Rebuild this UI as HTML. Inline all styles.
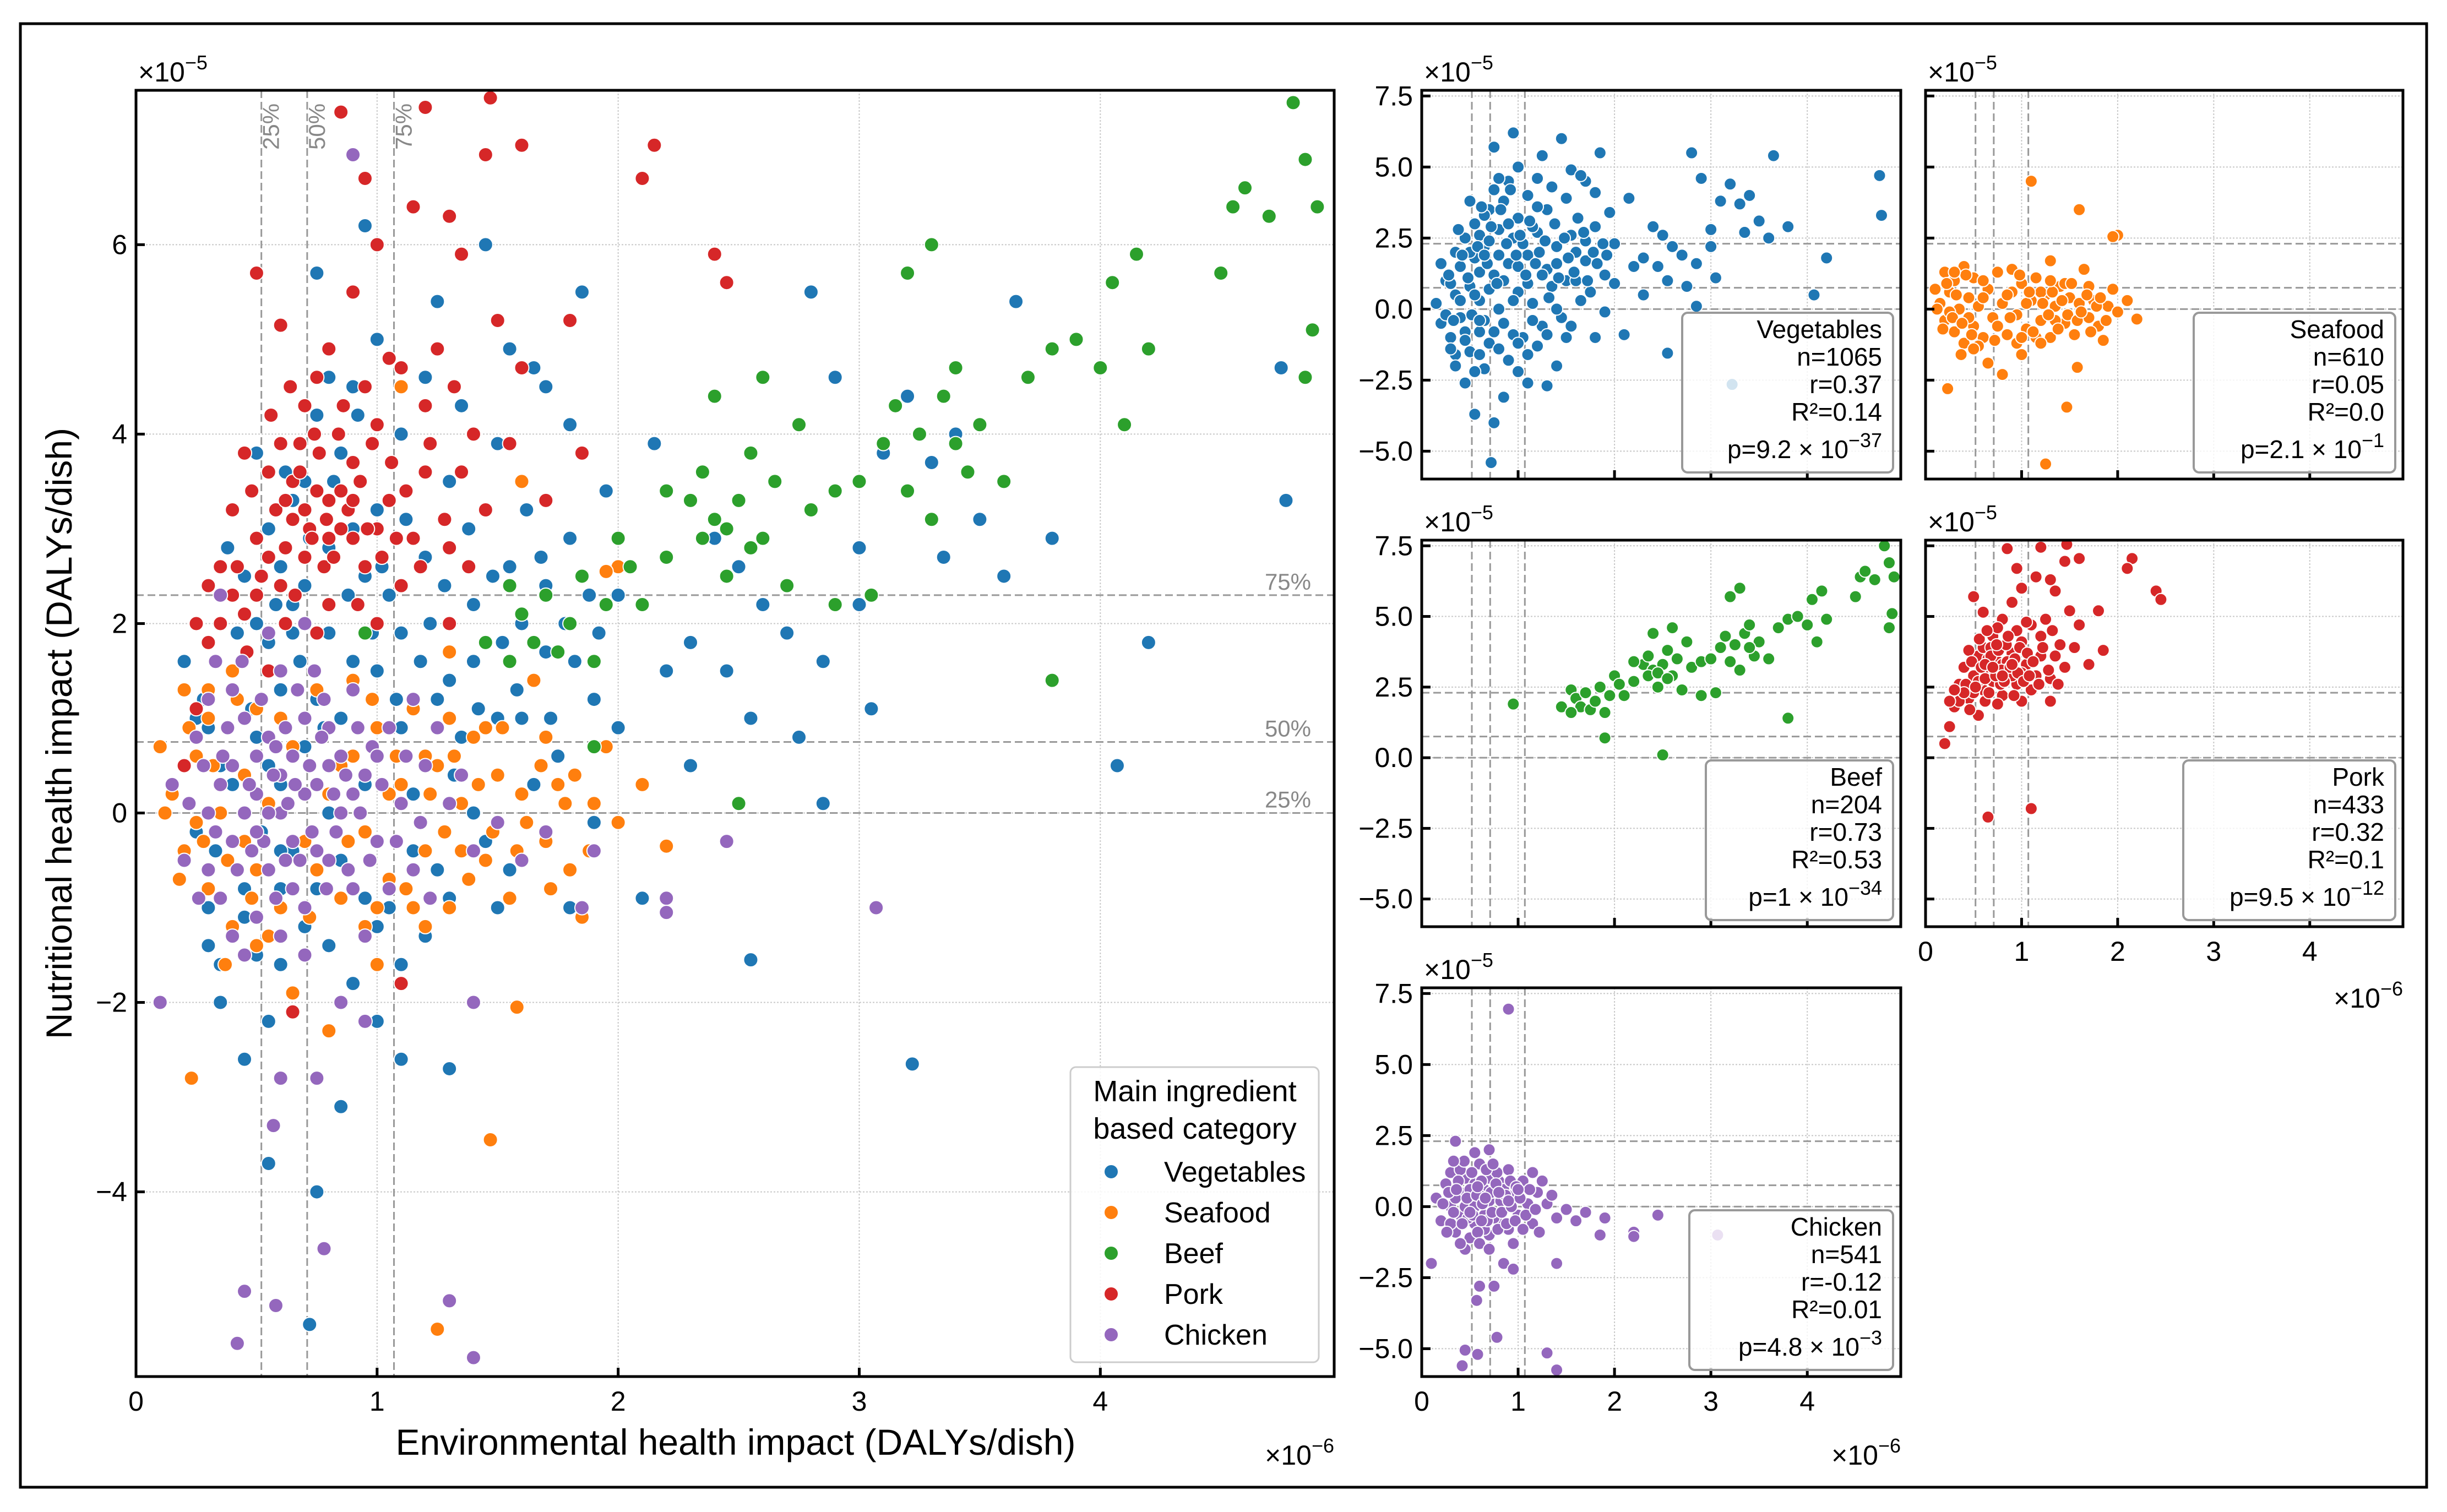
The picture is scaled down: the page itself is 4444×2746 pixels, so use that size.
<!DOCTYPE html>
<html><head><meta charset="utf-8"><style>
html,body{margin:0;padding:0;background:#fff}
svg{display:block;font-family:"Liberation Sans",sans-serif}
</style></head><body>
<svg id="fig" width="4444" height="2746" viewBox="0 0 4444 2746" xmlns="http://www.w3.org/2000/svg">
<rect x="0" y="0" width="4444" height="2746" fill="#fff"/>
<rect x="37" y="43" width="4370" height="2658" fill="none" stroke="#000" stroke-width="5"/>
<g id="layer"></g>
</svg>
<script>
const categories = ["Vegetables","Seafood","Beef","Pork","Chicken"];
const colors = ["#1f77b4","#ff7f0e","#2ca02c","#d62728","#9467bd"];
const xTicksMain = [0,1,2,3,4];
const yTicksMain = [-4,-2,0,2,4,6];
const yTicksSub = [-5,-2.5,0,2.5,5,7.5];
const xRefLines = [0.52,0.71,1.07];
const yRefLines = [0,0.75,2.3];
const refLabels = ["25%","50%","75%"];
const vegPts = [[0.15,0.2],[0.2,-0.5],[0.25,1.0],[0.3,-1.0],[0.35,0.5],[0.4,1.5],[0.4,-0.3],[0.45,2.5],[0.5,0.8],[0.5,-1.5],[0.55,3.0],[0.55,1.8],[0.6,-0.8],[0.6,0.3],[0.65,2.2],[0.7,3.5],[0.7,-1.2],[0.75,1.2],[0.75,4.2],[0.8,2.8],[0.8,0.0],[0.85,-0.5],[0.85,3.8],[0.9,1.6],[0.9,-1.8],[0.95,2.5],[1.0,0.6],[1.0,3.2],[1.05,-1.0],[1.1,1.9],[1.1,4.0],[1.15,0.2],[1.2,2.7],[1.25,-0.6],[1.3,1.4],[1.3,3.5],[1.35,0.8],[1.4,2.2],[1.45,-0.3],[1.5,1.0],[1.5,3.9],[1.55,4.9],[1.6,2.0],[1.65,0.3],[1.7,1.7],[1.8,2.9],[1.85,5.5],[1.9,1.2],[2.0,2.3],[0.75,5.7],[0.95,6.2],[1.25,5.4],[1.45,6.0],[1.5,-1.0],[2.1,-0.9],[2.2,1.5],[2.3,1.8],[2.4,2.9],[2.5,2.6],[2.55,1.0],[2.6,2.2],[2.7,1.9],[2.75,0.8],[2.8,5.5],[2.85,0.1],[2.9,4.6],[3.0,2.2],[3.05,1.1],[3.1,3.8],[3.2,4.4],[3.3,3.7],[3.4,4.0],[3.5,3.1],[3.6,2.5],[3.65,5.4],[3.8,2.9],[4.07,0.5],[4.2,1.8],[4.75,4.7],[4.77,3.3],[3.22,-2.65],[2.55,-1.55],[0.55,-3.7],[0.45,-2.6],[0.85,-3.1],[0.65,-2.1],[1.4,-2.0],[1.3,-2.7],[0.35,-1.6],[1.9,-0.1],[2.3,0.5],[1.95,3.4],[1.7,4.5],[0.6,2.6],[0.9,4.5],[1.0,-2.2],[0.75,-4.0],[0.72,-5.4],[1.1,-2.6],[0.3,0.9],[0.5,2.0],[0.65,3.3],[0.8,1.9],[0.95,-0.9],[1.2,-1.3],[1.05,2.3],[0.4,0.3],[0.6,1.3],[0.7,0.7],[1.35,4.3],[1.6,1.0],[1.75,0.6],[1.8,-1.0],[2.0,0.9],[0.25,-0.2],[0.45,-0.8],[0.55,0.5],[0.65,-0.4],[0.85,1.0],[1.0,1.5],[1.15,2.9],[1.25,1.2],[0.35,2.0],[0.7,2.4],[0.9,3.0],[1.2,3.6],[1.4,1.6],[1.55,2.6],[1.7,2.4],[0.2,1.6],[0.3,-1.4],[0.6,-1.6],[1.0,-1.2],[1.3,-0.9],[1.1,0.9],[0.8,-1.4],[0.5,3.8],[1.65,4.7],[1.8,4.1],[2.15,3.9],[2.45,1.5],[2.85,1.6],[3.0,2.8],[3.35,2.7],[0.28,1.2],[0.33,-0.4],[0.38,2.8],[0.42,1.9],[0.48,1.1],[0.52,-0.2],[0.58,2.2],[0.62,3.6],[0.68,1.6],[0.72,2.9],[0.78,0.9],[0.82,3.5],[0.88,2.3],[0.92,4.2],[0.98,1.9],[1.02,2.6],[1.08,1.2],[1.12,3.1],[1.18,1.6],[1.22,2.0],[1.28,2.4],[1.32,0.4],[1.38,3.0],[1.42,1.1],[1.48,2.5],[1.52,1.8],[1.58,1.3],[1.62,3.2],[1.68,2.7],[1.72,1.0],[1.78,2.0],[1.82,1.6],[1.88,2.3],[1.92,1.9],[0.45,-1.1],[0.6,-0.4],[0.75,-0.8],[0.95,0.3],[1.15,-0.4],[1.4,0.0],[0.55,-2.2],[0.35,-2.0],[1.2,4.6],[0.8,4.6],[1.0,5.0],[0.65,1.9],[1.1,-1.6],[1.55,-0.6]];
const seaPts = [[0.1,0.7],[0.15,0.2],[0.2,1.3],[0.2,-0.4],[0.25,0.6],[0.3,-0.8],[0.3,1.0],[0.35,0.0],[0.4,-1.2],[0.45,0.4],[0.5,-0.6],[0.5,1.1],[0.55,0.1],[0.6,-1.0],[0.65,0.7],[0.7,-0.3],[0.75,1.3],[0.8,0.2],[0.85,-0.9],[0.9,0.6],[0.95,-0.2],[1.0,0.9],[1.05,-0.7],[1.1,0.3],[1.15,1.1],[1.2,-0.4],[1.25,0.5],[1.3,-1.0],[1.35,0.1],[1.4,0.8],[1.45,-0.5],[1.5,0.4],[1.55,-0.9],[1.6,0.2],[1.7,-0.3],[1.75,0.3],[1.8,-0.6],[1.9,0.1],[1.95,0.7],[2.2,-0.35],[1.1,4.5],[1.6,3.5],[0.37,-1.6],[0.23,-2.8],[1.25,-5.45],[1.47,-3.45],[1.58,-2.05],[0.8,-2.3],[0.65,-1.9],[1.0,-1.6],[2.0,2.6],[1.95,2.55],[1.65,1.4],[1.3,1.7],[0.9,1.4],[0.4,1.5],[0.25,-0.1],[0.45,-0.3],[0.6,0.4],[0.75,-0.6],[0.85,0.5],[1.05,0.2],[1.2,0.6],[1.35,-0.4],[1.45,0.9],[0.55,-1.3],[0.95,-1.2],[1.15,-1.0],[1.7,0.8],[1.85,-1.1],[0.12,0.0],[0.18,-0.7],[0.22,0.9],[0.28,-0.3],[0.32,0.5],[0.38,-0.5],[0.42,1.2],[0.48,-0.9],[0.6,1.0],[0.72,-1.1],[0.88,-0.3],[0.98,1.2],[1.08,0.6],[1.12,-0.8],[1.22,0.2],[1.28,-0.2],[1.32,0.6],[1.38,-0.7],[1.42,0.3],[1.48,-0.2],[1.52,0.9],[1.58,-0.4],[1.62,-0.1],[1.68,0.5],[1.72,-0.8],[1.78,0.1],[1.82,0.4],[1.88,-0.4],[2.0,-0.1],[2.1,0.3],[1.3,1.0],[1.0,-1.0],[1.2,-1.2],[0.5,-1.4],[0.3,1.3]];
const beefPts = [[0.95,1.9],[1.45,1.8],[1.55,2.4],[1.6,2.1],[1.65,1.8],[1.7,2.3],[1.75,1.7],[1.8,2.0],[1.85,2.5],[1.9,1.6],[1.95,2.2],[2.0,2.9],[2.05,2.6],[2.1,2.2],[2.2,2.7],[2.3,3.3],[2.35,3.6],[2.4,3.1],[2.45,2.5],[2.5,3.3],[2.55,3.8],[2.6,2.9],[2.65,3.5],[2.7,2.4],[2.8,3.2],[2.9,3.4],[3.0,3.5],[3.1,3.9],[3.15,4.3],[3.2,5.7],[3.25,4.0],[3.3,3.1],[3.35,4.4],[3.4,4.7],[3.45,3.6],[3.5,4.1],[3.6,3.5],[3.7,4.6],[3.8,4.9],[3.9,5.0],[4.0,4.7],[4.05,5.6],[4.1,4.1],[4.15,5.9],[4.2,4.9],[4.5,5.7],[4.55,6.4],[4.6,6.6],[4.7,6.3],[4.8,7.5],[4.85,6.9],[4.9,6.4],[4.85,4.6],[4.88,5.1],[3.3,6.0],[2.4,4.4],[2.6,4.6],[1.9,0.7],[2.5,0.1],[3.8,1.4],[2.9,2.2],[3.05,2.3],[2.75,4.1],[2.2,3.4],[1.55,1.6],[2.35,2.9],[2.45,3.0],[2.55,2.8],[3.2,3.4],[3.4,3.9]];
const porkPts = [[0.3,1.8],[0.35,2.6],[0.4,3.2],[0.45,2.1],[0.5,2.9],[0.55,3.6],[0.6,2.4],[0.6,3.9],[0.65,3.1],[0.7,2.7],[0.7,4.3],[0.75,3.4],[0.8,2.2],[0.8,4.9],[0.85,3.0],[0.9,3.7],[0.9,5.5],[0.95,2.6],[1.0,4.1],[1.0,6.0],[1.05,3.3],[1.1,2.4],[1.1,4.7],[1.15,6.4],[1.2,3.6],[1.25,4.9],[1.3,2.8],[1.35,5.9],[1.4,4.0],[1.45,3.2],[1.5,5.2],[1.55,3.9],[1.6,4.7],[1.7,3.3],[1.8,5.2],[1.85,3.8],[2.15,7.05],[2.1,6.7],[2.4,5.9],[2.45,5.6],[1.47,7.55],[1.6,7.05],[1.2,7.45],[0.85,7.4],[0.95,6.7],[1.3,6.3],[0.5,5.7],[0.6,5.15],[0.65,-2.1],[1.1,-1.8],[0.25,1.1],[0.2,0.5],[0.55,1.5],[0.75,1.9],[1.0,2.0],[1.3,2.0],[0.45,3.8],[0.8,3.3],[0.95,4.5],[1.2,4.3],[1.45,6.95],[0.55,2.7],[0.65,3.5],[0.72,3.0],[0.78,2.6],[0.85,3.4],[0.9,2.9],[1.0,3.0],[0.68,3.9],[0.35,2.0],[0.5,2.3],[0.62,2.0],[0.92,2.2],[1.15,2.9],[1.35,3.6],[0.75,4.6],[1.05,4.8],[0.42,2.6],[0.48,3.4],[0.52,2.5],[0.58,3.2],[0.62,2.8],[0.66,2.3],[0.68,3.6],[0.73,2.9],[0.76,3.8],[0.79,3.1],[0.82,2.7],[0.84,4.0],[0.88,3.2],[0.93,3.5],[0.96,3.0],[0.98,3.9],[1.02,2.7],[1.06,3.7],[1.08,2.9],[1.12,3.4],[1.18,2.6],[1.22,3.9],[1.28,3.1],[1.32,4.5],[1.38,2.6],[0.56,4.2],[0.64,4.5],[0.74,4.0],[0.86,4.3],[0.62,3.3],[0.7,3.2],[0.8,2.9],[0.9,3.3],[0.4,2.3],[0.46,1.7],[0.3,2.4],[0.25,2.0]];
const chickPts = [[0.15,0.3],[0.2,-0.5],[0.25,0.8],[0.3,0.0],[0.3,1.2],[0.35,-0.9],[0.4,0.5],[0.4,-0.3],[0.45,1.0],[0.5,-1.1],[0.5,0.2],[0.55,0.8],[0.55,-0.6],[0.6,1.5],[0.6,0.0],[0.65,-0.3],[0.65,0.6],[0.7,1.0],[0.7,-1.0],[0.75,0.3],[0.8,-0.5],[0.8,0.9],[0.85,0.0],[0.9,1.3],[0.9,-0.8],[0.95,0.4],[1.0,-0.3],[1.05,0.9],[1.1,0.1],[1.15,-0.6],[1.2,0.5],[1.3,0.1],[1.4,-0.4],[1.5,-0.1],[1.6,-0.5],[1.7,-0.2],[1.85,-1.0],[1.9,-0.4],[2.2,-0.9],[2.2,-1.05],[2.45,-0.3],[3.07,-1.0],[0.9,6.95],[0.45,-5.05],[0.42,-5.6],[0.58,-5.2],[0.57,-3.3],[0.6,-2.8],[0.75,-2.8],[0.78,-4.6],[1.3,-5.15],[1.4,-5.75],[0.1,-2.0],[0.45,-1.5],[0.85,-2.0],[0.95,-2.2],[1.4,-2.0],[0.35,2.3],[0.7,2.0],[0.55,1.9],[0.35,0.3],[0.45,0.0],[0.5,0.6],[0.6,0.4],[0.65,-0.8],[0.7,0.2],[0.75,-0.4],[0.85,0.6],[0.4,1.3],[0.55,0.0],[0.62,0.9],[0.48,-0.4],[0.78,1.2],[0.3,-0.6],[0.22,0.1],[0.28,0.5],[0.33,-0.2],[0.38,0.9],[0.42,-0.6],[0.47,0.3],[0.52,1.2],[0.53,-0.3],[0.57,0.4],[0.58,-0.9],[0.63,0.1],[0.67,1.3],[0.68,-0.5],[0.72,0.5],[0.73,-0.2],[0.77,0.8],[0.79,-0.8],[0.82,0.2],[0.83,-0.2],[0.87,0.4],[0.88,-0.6],[0.92,0.9],[0.93,0.0],[0.97,-0.5],[0.98,0.7],[1.02,0.3],[1.08,-0.3],[1.12,0.6],[1.18,-0.1],[1.22,-0.9],[1.25,0.9],[1.35,0.4],[0.26,-0.9],[0.36,0.6],[0.44,1.6],[0.5,-0.2],[0.62,-0.5],[0.66,0.3],[0.74,1.5],[0.8,0.5],[0.9,0.2],[1.0,0.6],[1.05,-0.8],[0.4,-1.3],[0.6,-1.3],[0.7,-1.5],[0.95,-1.3],[1.15,1.2],[0.33,1.6],[0.58,0.7]];
const seriesPts = [vegPts,seaPts,beefPts,porkPts,chickPts];
const statN = ["1065","610","204","433","541"];
const statR = ["0.37","0.05","0.73","0.32","-0.12"];
const statR2 = ["0.14","0.0","0.53","0.1","0.01"];
const statP = ["9.2","2.1","1","9.5","4.8"];
const statExp = ["−37","−1","−34","−12","−3"];

const NS="http://www.w3.org/2000/svg";
const layer=document.getElementById('layer');
function mk(tag,attrs,parent,txt){const e=document.createElementNS(NS,tag);for(const k in attrs)e.setAttribute(k,attrs[k]);if(txt!==undefined)e.textContent=txt;(parent||layer).appendChild(e);return e;}
const XLIM=[0,4.97], YLIM=[-5.95,7.63], YLIMS=[-5.98,7.7];
function fmt(v,dec){let s=dec?v.toFixed(1):String(v);return s.replace('-','−');}

function drawAxes(name,L,R,T,B,ylim,idxs,opts){
  const g=mk('g',{});
  
  
  const sx=v=>L+(v-XLIM[0])/(XLIM[1]-XLIM[0])*(R-L);
  const sy=v=>B-(v-ylim[0])/(ylim[1]-ylim[0])*(B-T);
  const yt=opts.main?yTicksMain:yTicksSub;
  xTicksMain.forEach(v=>{if(v>0){const l=mk('line',{x1:sx(v),x2:sx(v),y1:T,y2:B,stroke:'#c8c8c8','stroke-width':2,'stroke-dasharray':'3 3'},g);}});
  yt.forEach(v=>{const l=mk('line',{x1:L,x2:R,y1:sy(v),y2:sy(v),stroke:'#c8c8c8','stroke-width':2,'stroke-dasharray':'3 3'},g);});
  xRefLines.forEach((v,i)=>{const l=mk('line',{x1:sx(v),x2:sx(v),y1:T,y2:B,stroke:'#999','stroke-width':3,'stroke-dasharray':'14 7'},g);
    if(opts.main){const t=mk('text',{x:0,y:0,transform:`translate(${sx(v)+32},${T+108}) rotate(-90)`,fill:'#888','font-size':42},g,refLabels[i]);}});
  yRefLines.forEach((v,i)=>{const l=mk('line',{x1:L,x2:R,y1:sy(v),y2:sy(v),stroke:'#999','stroke-width':3,'stroke-dasharray':'14 7'},g);
    if(opts.main){const t=mk('text',{x:R-42,y:sy(v)-10,fill:'#888','font-size':42,'text-anchor':'end'},g,refLabels[i]);}});
  const clip='clip-'+name;
  const cp=mk('clipPath',{id:clip},g);mk('rect',{x:L,y:T,width:R-L,height:B-T},cp);
  const pg=mk('g',{'clip-path':`url(#${clip})`},g);
  const rr=opts.main?13:11;
  idxs.forEach(ci=>{seriesPts[ci].forEach(p=>{const c=mk('circle',{cx:sx(p[0]),cy:sy(p[1]),r:rr,fill:colors[ci],stroke:'#fff','stroke-width':2},pg);
    
    });});
  const fr=mk('rect',{x:L,y:T,width:R-L,height:B-T,fill:'none',stroke:'#000','stroke-width':5},g);
  
  xTicksMain.forEach(v=>{mk('line',{x1:sx(v),x2:sx(v),y1:B,y2:B-16,stroke:'#000','stroke-width':5},g);
    if(opts.xlabels){const t=mk('text',{x:sx(v),y:B+62,'font-size':50,'text-anchor':'middle'},g,String(v));}});
  yt.forEach(v=>{mk('line',{x1:L,x2:L+16,y1:sy(v),y2:sy(v),stroke:'#000','stroke-width':5},g);
    if(opts.ylabels){const t=mk('text',{x:L-16,y:sy(v)+17,'font-size':50,'text-anchor':'end'},g,fmt(v,!opts.main));}});
  const oy=mk('text',{x:L+4,y:T-16,'font-size':50},g);
  mk('tspan',{},oy,'×10');mk('tspan',{dy:-22,'font-size':36},oy,'−5');
  if(opts.xoff){const ox=mk('text',{x:R,y:opts.xoffY,'font-size':50,'text-anchor':'end'},g);
    mk('tspan',{},ox,'×10');mk('tspan',{dy:-22,'font-size':36},ox,'−6');}
  return {sx,sy,g};
}

drawAxes('main-scatter',247,2423,164,2500,YLIM,[0,1,2,3,4],{main:true,xlabels:true,ylabels:true,xoff:true,xoffY:2660});
let t=mk('text',{x:1336,y:2642,'font-size':66,'text-anchor':'middle'},null,'Environmental health impact (DALYs/dish)');

t=mk('text',{x:0,y:0,transform:'translate(130,1332) rotate(-90)','font-size':66,'text-anchor':'middle'},null,'Nutritional health impact (DALYs/dish)');


const lg=mk('g',{});
mk('rect',{x:1944,y:1938,width:451,height:536,rx:10,fill:'#fff','fill-opacity':0.85,stroke:'#ccc','stroke-width':3},lg);
mk('text',{x:2170,y:2000,'font-size':54,'text-anchor':'middle'},lg,'Main ingredient');
mk('text',{x:2170,y:2068,'font-size':54,'text-anchor':'middle'},lg,'based category');
categories.forEach((c,i)=>{const y=2128+i*74;const e=mk('g',{},lg);
  mk('circle',{cx:2018,cy:y,r:13,fill:colors[i],stroke:'#fff','stroke-width':2},e);
  mk('text',{x:2114,y:y+18,'font-size':52},e,c);});

const subs=[{L:2582,R:3452,T:164,B:870,xl:false,xoff:false},{L:3497,R:4364,T:164,B:870,xl:false,xoff:false},
 {L:2582,R:3452,T:981,B:1683,xl:false,xoff:false},{L:3497,R:4364,T:981,B:1683,xl:true,xoff:true,xoffY:1830},
 {L:2582,R:3452,T:1794,B:2500,xl:true,xoff:true,xoffY:2660}];
const boxW=[383,366,340,385,370];
subs.forEach((s,i)=>{
  const ax=drawAxes('subplot-'+categories[i].toLowerCase(),s.L,s.R,s.T,s.B,YLIMS,[i],{main:false,xlabels:s.xl,ylabels:(i%2===0||i===4),xoff:s.xoff,xoffY:s.xoffY});
  const bx=mk('g',{},ax.g);
  const bR=s.R-14,bB=s.B-12,bT=bB-290;
  mk('rect',{x:bR-boxW[i],y:bT,width:boxW[i],height:290,rx:10,fill:'#fff','fill-opacity':0.8,stroke:'#999','stroke-width':4},bx);
  const tx=bR-20;
  const lines=[categories[i],'n='+statN[i],'r='+statR[i],'R²='+statR2[i]];
  lines.forEach((l,k)=>mk('text',{x:tx,y:bT+46+k*50,'font-size':46,'text-anchor':'end'},bx,l));
  const pt=mk('text',{x:tx,y:bT+264,'font-size':46,'text-anchor':'end'},bx);
  mk('tspan',{},pt,'p='+statP[i]+'  ×  10');mk('tspan',{dy:-20,'font-size':36},pt,statExp[i]);
});
</script>
</body></html>
